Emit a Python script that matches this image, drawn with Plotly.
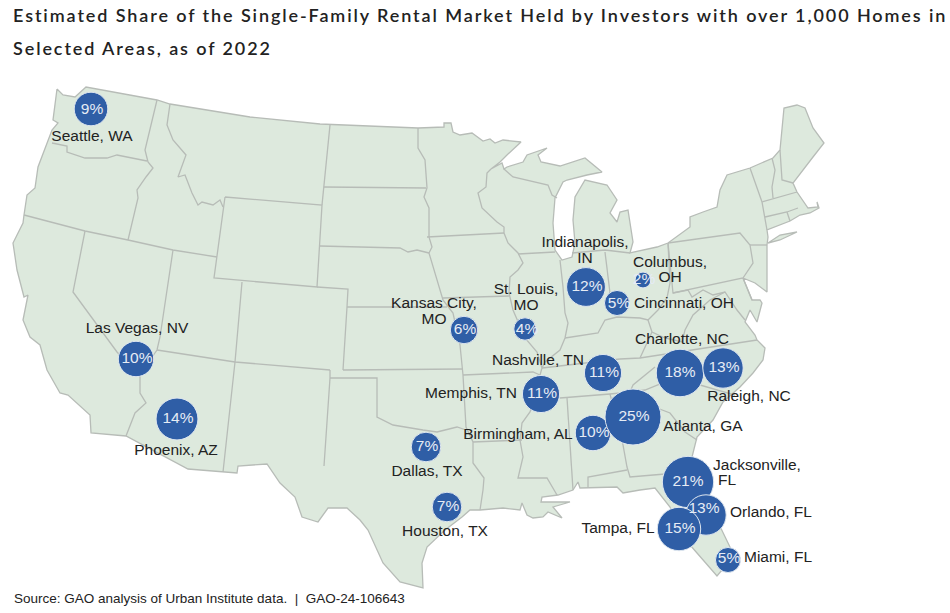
import plotly.graph_objects as go

# Map is drawn in picture coordinates, no topojson available offline
outline = [
    (57,89),(63,95),(75,97),(86,87),(157,100),(170,104),(250,117),(320,124),(418,128),(444,127),(444,123),(451,123),
    (453,132),(460,135),(472,133),(483,141),(490,139),(495,143),(503,140),(521,142),(507,155),(500,162),(491,169),
    (502,163),(504,169),(507,167),(523,162),(527,155),(547,148),(538,155),(541,162),(560,166),(585,158),(602,172),
    (587,175),(567,180),(563,182),(558,193),(555,198),(553,223),(555,250),(562,260),(572,257),(575,243),(573,220),
    (575,197),(585,180),(607,185),(617,200),(610,213),(617,222),(620,212),(628,210),(633,242),(630,253),(657,247),
    (668,243),(690,227),(690,217),(703,212),(717,207),(720,190),(727,175),(750,168),(773,158),(780,150),(784,108),
    (797,105),(805,108),(813,128),(824,143),(813,157),(803,170),(793,183),(797,192),(808,208),(818,207),(817,202),
    (819,208),(810,213),(800,215),(790,221),(767,230),(768,237),(767,245),(767,263),(767,292),(755,283),(743,278),
    (752,300),(760,300),(762,303),(757,322),(750,310),(745,322),(755,335),(757,340),(765,348),(763,360),(753,373),
    (740,387),(723,402),(713,420),(697,437),(692,457),(700,485),(720,527),(730,547),(728,563),(717,576),(697,553),
    (683,537),(670,507),(655,488),(640,490),(623,493),(617,487),(588,488),(580,488),(578,482),(573,490),(558,495),
    (542,497),(541,502),(570,502),(553,507),(562,518),(548,512),(543,517),(533,518),(527,515),(522,503),(520,510),
    (503,508),(480,510),(470,510),(462,517),(445,530),(427,547),(422,563),(423,588),(400,582),(383,563),(368,530),
    (360,520),(347,508),(328,508),(318,522),(302,517),(295,497),(280,483),(267,464),(238,466),(237,473),(223,472),
    (188,469),(126,436),(91,433),(90,415),(68,395),(60,393),(47,370),(40,345),(30,337),(23,320),(28,295),(24,297),
    (17,270),(13,243),(23,223),(24,215),(27,195),(35,188),(38,167),(52,130),(58,123),(53,120),(57,89),
    None,
    (768,243),(780,235),(797,232),(780,240),(768,243),
]

borders = [
    [(52,143),(67,146),(67,152),(85,158),(107,158),(117,155),(147,161)],
    [(157,100),(145,150),(148,162),(153,168),(146,177),(137,190),(138,198),(128,240)],
    [(170,104),(167,125),(173,140),(186,155),(178,177),(185,175),(192,193),(198,205),(202,202),(213,205),(220,200),(223,207)],
    [(24,215),(85,231),(128,240),(173,250),(217,257)],
    [(225,197),(322,205),(317,287),(214,278),(225,197)],
    [(85,231),(73,292),(117,352),(140,377),(140,393),(146,403),(135,413),(126,436)],
    [(173,250),(160,337),(157,350),(150,360),(140,377)],
    [(157,350),(235,362),(330,370)],
    [(242,282),(237,340),(235,362),(223,472)],
    [(330,125),(324,187),(322,205)],
    [(317,287),(348,289),(347,307),(343,370)],
    [(324,187),(426,188)],
    [(418,128),(418,148),(425,160),(427,188),(424,197),(429,208),(429,237),(432,247),(429,253),(433,267),(438,283),(443,300),(453,313),(460,345),(463,375),(466,427),(473,442),(473,463),(484,478),(483,490),(480,510)],
    [(320,246),(400,248),(408,252),(417,250),(429,253)],
    [(427,237),(504,233)],
    [(491,169),(487,173),(486,187),(478,193),(482,208),(497,222),(504,227),(504,233),(508,243),(518,253),(523,263),(518,270),(510,277),(509,293),(513,310),(525,338),(537,352),(542,368),(540,375),(540,383),(530,412),(522,423),(520,440),(523,457),(518,478),(547,478),(557,495)],
    [(443,298),(509,296)],
    [(518,254),(555,252)],
    [(504,169),(513,177),(548,185),(552,195),(557,198)],
    [(560,260),(563,287),(565,313),(568,323),(565,338),(560,350),(545,362),(542,368)],
    [(572,253),(605,250),(630,253)],
    [(605,252),(610,293)],
    [(565,338),(598,333),(605,320),(617,317),(640,318),(648,320),(658,310),(667,298),(670,283),(668,243)],
    [(668,243),(740,233),(750,245),(753,263),(743,278),(673,293),(668,243)],
    [(750,245),(767,245)],
    [(750,168),(762,202),(767,230)],
    [(743,278),(752,300)],
    [(673,293),(688,290),(692,297),(703,290),(713,295),(725,292),(737,310),(745,320)],
    [(725,292),(710,300),(693,315),(685,330),(682,342),(665,338),(652,332),(648,320)],
    [(652,332),(640,358)],
    [(542,368),(620,359),(640,358),(757,340)],
    [(463,375),(533,372),(540,375)],
    [(343,370),(463,369)],
    [(330,370),(330,378),(324,466)],
    [(330,378),(377,378),(377,417),(393,425),(423,430),(437,432),(457,427),(466,430)],
    [(347,307),(447,307)],
    [(473,442),(522,440)],
    [(655,367),(633,385),(630,392),(610,394),(560,398)],
    [(567,398),(573,490)],
    [(610,394),(623,445),(627,467),(630,477),(665,474),(690,465)],
    [(588,488),(588,477),(627,470)],
    [(630,392),(645,390),(670,380),(700,385),(735,395)],
    [(630,392),(657,408),(670,413),(685,432),(697,440)],
    [(772,158),(775,170),(772,187),(773,198)],
    [(780,150),(782,180),(793,183)],
    [(762,202),(797,192)],
    [(765,217),(787,212),(798,208)],
    [(787,212),(790,221)],
]

# Share of market and position of each metro area
cities = ["Seattle", "Las Vegas", "Phoenix", "Kansas City", "St. Louis", "Indianapolis", "Cincinnati", "Columbus",
          "Nashville", "Memphis", "Birmingham", "Atlanta", "Charlotte", "Raleigh", "Jacksonville", "Orlando",
          "Tampa", "Miami", "Dallas", "Houston"]
shares = [9, 10, 14, 6, 4, 12, 5, 2, 11, 11, 10, 25, 18, 13, 21, 13, 15, 5, 7, 7]
city_x = [91, 136, 177, 464, 525, 586, 617, 643, 603, 541, 593, 633, 680, 723, 688, 706, 679, 728, 426, 447]
city_y = [109, 359, 419, 330, 329, 287, 303, 280, 373, 394, 433, 417, 373, 368, 482, 515, 529, 560, 447, 507]
pct_x = [92, 137, 178, 465, 527, 587, 619, 644, 604, 542, 594, 634, 680, 724, 688, 704, 680, 729, 427, 448]
pct_y = [110, 359, 419, 330, 330, 287, 304, 280, 373, 394, 433, 417, 373, 368, 482, 509, 529, 559, 447, 507]

label_text = ["Seattle, WA", "Las Vegas, NV", "Phoenix, AZ", "Kansas City,", "MO", "St. Louis,", "MO", "Indianapolis,", "IN",
              "Columbus,", "OH", "Cincinnati, OH", "Charlotte, NC", "Raleigh, NC", "Atlanta, GA", "Jacksonville,", "FL",
              "Orlando, FL", "Tampa, FL", "Miami, FL", "Nashville, TN", "Memphis, TN", "Birmingham, AL", "Dallas, TX", "Houston, TX"]
label_x = [92, 137, 176, 434, 434, 526, 526, 585, 585, 670, 670, 684, 682, 749, 703, 757, 727, 771, 618, 778, 538, 471, 518, 427, 445]
label_y = [137, 329, 451, 304, 320, 290, 306, 243, 259, 263, 278, 304, 340, 397, 427, 466, 481, 513, 529, 558, 361, 394, 435, 472, 532]

fig = go.Figure()

fig.add_trace(go.Scatter(
    x = [p[0] if p else None for p in outline],
    y = [p[1] if p else None for p in outline],
    mode = "lines",
    fill = "toself",
    fillcolor = "#dde9dd",
    line = dict(color="#b7bcb7", width=1.3),
    hoverinfo = "skip"
))

border_x = []
border_y = []
for b in borders:
    border_x += [p[0] for p in b] + [None]
    border_y += [p[1] for p in b] + [None]
fig.add_trace(go.Scatter(
    x = border_x,
    y = border_y,
    mode = "lines",
    line = dict(color="#b7bcb7", width=1.3),
    hoverinfo = "skip"
))

fig.add_trace(go.Scatter(
    x = label_x,
    y = label_y,
    text = label_text,
    mode = "text",
    textposition = "middle center",
    textfont = dict(family="Liberation Sans", size=15.5, color="#222222"),
    hoverinfo = "skip"
))

# Bubble area follows the share
fig.add_trace(go.Scatter(
    x = city_x,
    y = city_y,
    customdata = cities,
    text = [f"{s}%" for s in shares],
    mode = "markers",
    marker = dict(
        size = shares,
        sizemode = "area",
        sizeref = 1 / 62.7,
        color = "#2f5ea6",
        opacity = 1,
        line = dict(color="#dfe7f0", width=1)
    ),
    hovertemplate = "%{customdata}: %{text}<extra></extra>"
))

fig.add_trace(go.Scatter(
    x = pct_x,
    y = pct_y,
    text = [f"{s}%" for s in shares],
    mode = "text",
    textposition = "middle center",
    textfont = dict(family="Liberation Sans", size=15.5, color="#e6ecf5"),
    hoverinfo = "skip"
))

fig.add_annotation(x=11, y=15, text="Estimated Share of the Single-Family Rental Market Held by Investors with over 1,000 Homes in",
                   xanchor="left", showarrow=False, font=dict(family="Lato", size=18, color="#222222", weight=600))
fig.add_annotation(x=11, y=48, text="Selected Areas, as of 2022",
                   xanchor="left", showarrow=False, font=dict(family="Lato", size=18, color="#222222", weight=600))
fig.add_annotation(x=12, y=598, text="Source: GAO analysis of Urban Institute data.  |  GAO-24-106643",
                   xanchor="left", showarrow=False, font=dict(family="Liberation Sans", size=13.5, color="#222222"))

fig.update_layout(
    width = 950,
    height = 613,
    margin = dict(l=0, r=0, t=0, b=0),
    showlegend = False,
    paper_bgcolor = "white",
    plot_bgcolor = "white",
    xaxis = dict(range=[0, 950], visible=False, fixedrange=True),
    yaxis = dict(range=[613, 0], visible=False, fixedrange=True)
)

# plotly has no letter spacing setting, the title is tracked out here
post = """
document.body.style.margin='0';
document.body.style.overflow='hidden';
document.querySelectorAll('.annotation-text').forEach(function(t, i){
    if(i > 1) return;
    var left = t.getBBox().x;
    t.style.textAnchor = 'start';
    t.setAttribute('x', left);
    t.style.letterSpacing = '1.9px';
});
"""
fig.write_html("out.html", post_script=post, config=dict(displayModeBar=False))
